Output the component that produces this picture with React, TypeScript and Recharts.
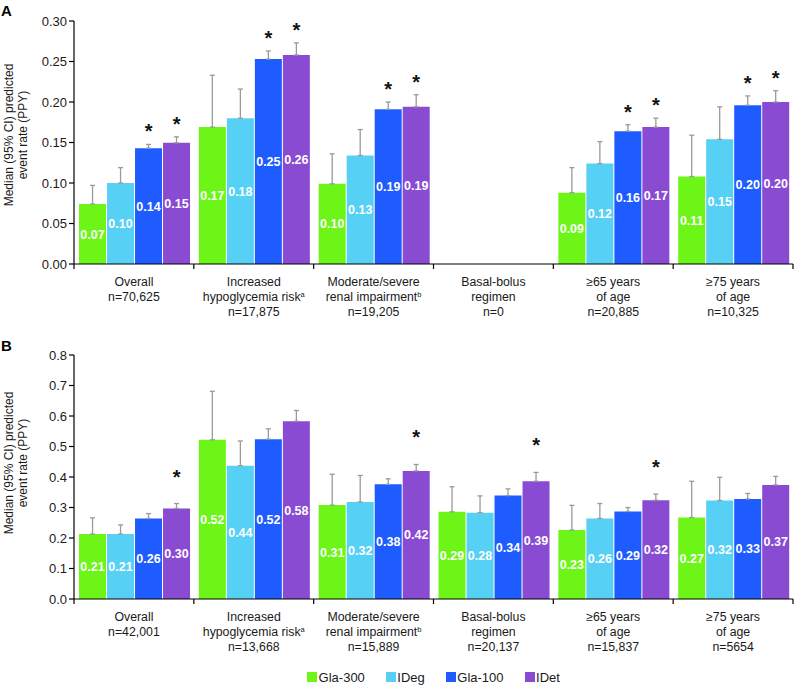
import React from 'react';
import { BarChart, Bar, XAxis, YAxis, ErrorBar, LabelList, Legend } from 'recharts';

// ---------- categories & tick labels ----------
const categories = [
  'Overall',
  'Increased hypoglycemia risk',
  'Moderate/severe renal impairment',
  'Basal-bolus regimen',
  '≥65 years of age',
  '≥75 years of age',
];
const categoryLines = [
  ['Overall'],
  ['Increased', 'hypoglycemia risk'],
  ['Moderate/severe', 'renal impairment'],
  ['Basal-bolus', 'regimen'],
  ['≥65 years', 'of age'],
  ['≥75 years', 'of age'],
];
const categoryNotes = ['', 'a', 'b', '', '', ''];
const nLabelsA = ['n=70,625', 'n=17,875', 'n=19,205', 'n=0', 'n=20,885', 'n=10,325'];
const nLabelsB = ['n=42,001', 'n=13,668', 'n=15,889', 'n=20,137', 'n=15,837', 'n=5654'];

const seriesNames = ['Gla-300', 'IDeg', 'Gla-100', 'IDet'];
const seriesKeys = ['gla300', 'ideg', 'gla100', 'idet'];
const seriesColors = ['#6CF516', '#57D0F5', '#1F5CFF', '#8A4BD3'];

const yTicksA = [0, 0.05, 0.1, 0.15, 0.2, 0.25, 0.3];
const yTicksB = [0, 0.1, 0.2, 0.3, 0.4, 0.5, 0.6, 0.7, 0.8];

// ---------- Panel A: medians ----------
const aGla300 = [0.074, 0.169, 0.099, null, 0.088, 0.108];
const aIDeg = [0.1, 0.18, 0.134, null, 0.124, 0.154];
const aGla100 = [0.143, 0.253, 0.191, null, 0.164, 0.196];
const aIDet = [0.1496, 0.258, 0.194, null, 0.169, 0.2];
// Panel A: upper 95% CI
const aGla300Upper = [0.097, 0.233, 0.136, null, 0.119, 0.159];
const aIDegUpper = [0.119, 0.216, 0.166, null, 0.151, 0.194];
const aGla100Upper = [0.1476, 0.263, 0.2, null, 0.172, 0.2075];
const aIDetUpper = [0.157, 0.273, 0.209, null, 0.18, 0.214];
// Panel A: significance flags
const aGla300Sig = [false, false, false, false, false, false];
const aIDegSig = [false, false, false, false, false, false];
const aGla100Sig = [true, true, true, false, true, true];
const aIDetSig = [true, true, true, false, true, true];

// ---------- Panel B: medians ----------
const bGla300 = [0.213, 0.522, 0.308, 0.286, 0.226, 0.267];
const bIDeg = [0.213, 0.437, 0.318, 0.283, 0.264, 0.323];
const bGla100 = [0.264, 0.524, 0.376, 0.339, 0.287, 0.328];
const bIDet = [0.297, 0.583, 0.42, 0.386, 0.324, 0.374];
// Panel B: upper 95% CI
const bGla300Upper = [0.266, 0.681, 0.409, 0.368, 0.307, 0.386];
const bIDegUpper = [0.243, 0.518, 0.405, 0.338, 0.313, 0.399];
const bGla100Upper = [0.28, 0.558, 0.394, 0.361, 0.3, 0.346];
const bIDetUpper = [0.313, 0.618, 0.441, 0.415, 0.344, 0.402];
// Panel B: significance flags
const bGla300Sig = [false, false, false, false, false, false];
const bIDegSig = [false, false, false, false, false, false];
const bGla100Sig = [false, false, false, false, false, false];
const bIDetSig = [true, false, true, true, true, false];

const FONT = '"Liberation Sans", Arial, Helvetica, sans-serif';
const TEXT = '#1a1a1a';

type Num = number | null;

function buildRows(vals: Num[][], uppers: Num[][]) {
  return categories.map((c, i) => {
    const row: any = { cat: c, idx: 'c' + i };
    seriesKeys.forEach((k, s) => {
      const v = vals[s][i];
      const u = uppers[s][i];
      row[k] = v;
      row[k + 'Err'] = v == null || u == null ? [0, 0] : [0, u - v];
    });
    return row;
  });
}

const catIndex = (props: any) => {
  const raw = props.value;
  if (typeof raw === 'string' && raw.startsWith('c')) return parseInt(raw.slice(1), 10);
  return props.index;
};

const makeStar = (vals: Num[], uppers: Num[], sig: boolean[], offset: number) => (props: any) => {
  const i = catIndex(props);
  const v = vals[i];
  const u = uppers[i];
  if (!sig[i] || v == null || u == null) return null;
  const vb = props.viewBox ?? props;
  const { x, y, width, height } = vb;
  const k = height / v;
  const yTop = y - (u - v) * k;
  const cy = yTop - offset;
  return (
    <text key={`star-${i}`} x={x + width / 2} y={cy + 11} textAnchor="middle" fontSize={20} fontWeight="bold" fill="#111" fontFamily={FONT}>
      *
    </text>
  );
};

const makeValueLabel = (vals: Num[]) => (props: any) => {
  const i = catIndex(props);
  const v = vals[i];
  if (v == null) return null;
  const vb = props.viewBox ?? props;
  const { x, y, width, height } = vb;
  return (
    <text key={`val-${i}`} x={x + width / 2} y={y + height / 2 + 4.5} textAnchor="middle" fontSize={12.5} fontWeight="bold" fill="#fff" fontFamily={FONT}>
      {v.toFixed(2)}
    </text>
  );
};

const makeXTick = (nLabels: string[], band: number) => (props: any) => {
  const { x, y, payload } = props;
  const i = categories.indexOf(payload.value);
  const lines = [...categoryLines[i], nLabels[i]];
  const note = categoryNotes[i];
  const half = band / 2;
  return (
    <g>
      <line x1={x - half} x2={x - half} y1={y} y2={y + 5} stroke="#000" strokeWidth={1.2} />
      {i === categories.length - 1 && <line x1={x + half} x2={x + half} y1={y} y2={y + 5} stroke="#000" strokeWidth={1.2} />}
      {lines.map((l, k) => (
        <text key={k} x={x} y={y + 22 + k * 15} textAnchor="middle" fontSize={12.3} fill={TEXT} fontFamily={FONT}>
          {l}
          {k === 1 && note ? (
            <tspan fontSize={7.5} dy={-4}>
              {note}
            </tspan>
          ) : null}
        </text>
      ))}
    </g>
  );
};

const makeYLabel = (centerY: number) => (props: any) => {
  return (
    <g>
      <text transform={`translate(12.5, ${centerY}) rotate(-90)`} textAnchor="middle" fontSize={12} fill={TEXT} fontFamily={FONT}>
        Median (95% CI) predicted
      </text>
      <text transform={`translate(27, ${centerY}) rotate(-90)`} textAnchor="middle" fontSize={12} fill={TEXT} fontFamily={FONT}>
        event rate (PPY)
      </text>
    </g>
  );
};

const renderLegend = () => (
  <div style={{ display: 'flex', justifyContent: 'center', alignItems: 'center', height: 22, paddingTop: 2, boxSizing: 'border-box', fontFamily: FONT, fontSize: 13, color: TEXT }}>
    {seriesNames.map((n, s) => (
      <div key={n} style={{ display: 'flex', alignItems: 'center', marginRight: s === seriesNames.length - 1 ? 0 : 21 }}>
        <span style={{ display: 'inline-block', width: 10, height: 10, background: seriesColors[s], marginRight: 1.5 }} />
        <span>{n}</span>
      </div>
    ))}
  </div>
);

interface PanelProps {
  vals: Num[][];
  uppers: Num[][];
  sigs: boolean[][];
  yMax: number;
  yTicks: number[];
  digits: number;
  nLabels: string[];
  starOffset: number;
  height: number;
  marginTop: number;
  labelCenterY: number;
  legend: boolean;
}

const WIDTH = 794;
const YAXIS_W = 74;
const RIGHT = 1;
const BAND = (WIDTH - YAXIS_W - RIGHT) / categories.length;

function Panel(p: PanelProps) {
  const rows = buildRows(p.vals, p.uppers);
  return (
    <BarChart
      width={WIDTH}
      height={p.height}
      data={rows}
      margin={{ top: p.marginTop, right: RIGHT, left: 0, bottom: 0 }}
      barCategoryGap="4.2%"
      barGap={1}
      style={{ fontFamily: FONT }}
    >
      <XAxis
        dataKey="cat"
        height={66}
        interval={0}
        tickSize={0}
        tickMargin={0}
        tickLine={false}
        axisLine={{ stroke: '#000', strokeWidth: 1.2 }}
        tick={makeXTick(p.nLabels, BAND)}
      />
      <YAxis
        width={YAXIS_W}
        domain={[0, p.yMax]}
        ticks={p.yTicks}
        interval={0}
        tickSize={5}
        tickFormatter={(v: number) => v.toFixed(p.digits)}
        tick={{ fontSize: 13, fill: TEXT, fontFamily: FONT }}
        axisLine={{ stroke: '#000', strokeWidth: 1.2 }}
        tickLine={{ stroke: '#000', strokeWidth: 1.2 }}
        label={{ content: makeYLabel(p.labelCenterY) }}
        allowDataOverflow
      />
      {p.legend && (
        <Legend
          verticalAlign="bottom"
          content={renderLegend}
          wrapperStyle={{ left: YAXIS_W, width: WIDTH - YAXIS_W - RIGHT }}
        />
      )}
      {seriesKeys.map((k, s) => (
        <Bar key={k} dataKey={k} name={seriesNames[s]} fill={seriesColors[s]} isAnimationActive={false}>
          <ErrorBar dataKey={k + 'Err'} direction="y" width={2.5} stroke="#9a9a9a" strokeWidth={1.3} />
          <LabelList dataKey="idx" content={makeValueLabel(p.vals[s])} />
          <LabelList dataKey="idx" content={makeStar(p.vals[s], p.uppers[s], p.sigs[s], p.starOffset)} />
        </Bar>
      ))}
    </BarChart>
  );
}

export default function App() {
  return (
    <div style={{ position: 'absolute', left: 0, top: 0, width: WIDTH, height: 687, background: '#fff', fontFamily: FONT }}>
      <div style={{ position: 'absolute', left: 0, top: 0 }}>
        <Panel
          vals={[aGla300, aIDeg, aGla100, aIDet]}
          uppers={[aGla300Upper, aIDegUpper, aGla100Upper, aIDetUpper]}
          sigs={[aGla300Sig, aIDegSig, aGla100Sig, aIDetSig]}
          yMax={0.3}
          yTicks={yTicksA}
          digits={2}
          nLabels={nLabelsA}
          starOffset={17}
          height={330}
          marginTop={21}
          labelCenterY={135}
          legend={false}
        />
      </div>
      <div style={{ position: 'absolute', left: 0, top: 330 }}>
        <Panel
          vals={[bGla300, bIDeg, bGla100, bIDet]}
          uppers={[bGla300Upper, bIDegUpper, bGla100Upper, bIDetUpper]}
          sigs={[bGla300Sig, bIDegSig, bGla100Sig, bIDetSig]}
          yMax={0.8}
          yTicks={yTicksB}
          digits={1}
          nLabels={nLabelsB}
          starOffset={31}
          height={357}
          marginTop={25}
          labelCenterY={133}
          legend={true}
        />
      </div>
      <div style={{ position: 'absolute', left: 1, top: 3, fontSize: 15, fontWeight: 'bold', lineHeight: '15px', color: '#000' }}>A</div>
      <div style={{ position: 'absolute', left: 1, top: 338, fontSize: 15, fontWeight: 'bold', lineHeight: '15px', color: '#000' }}>B</div>
    </div>
  );
}
